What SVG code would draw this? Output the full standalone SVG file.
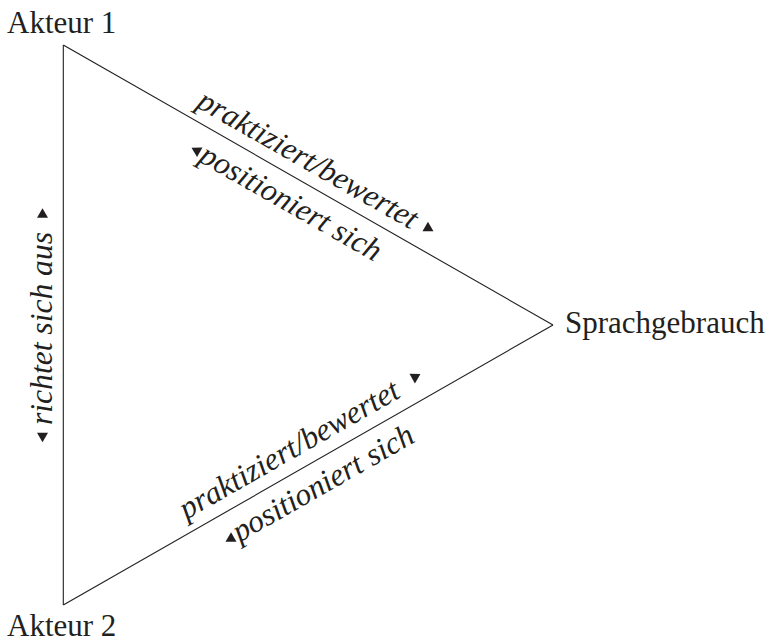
<svg xmlns="http://www.w3.org/2000/svg" width="773" height="642" viewBox="0 0 773 642">
<style>
  .node { font-family: "Liberation Serif", "Times New Roman", serif; font-size: 31px; fill: #231f20; }
  .lbl { font-family: "Liberation Serif", "Times New Roman", serif; font-style: italic; font-size: 31.5px; fill: #231f20; }
  .edge { fill: none; stroke: #231f20; stroke-width: 1.1; }
  .tri { fill: #231f20; }
</style>
<defs>
  <polygon id="tri-right" points="-4.75,-5.5 -4.75,5.5 4.75,0"/>
  <polygon id="tri-left" points="4.75,-5.5 4.75,5.5 -4.75,0"/>
</defs>
<rect width="773" height="642" fill="#ffffff"/>
<g id="connectors">
  <g id="edge-akteur1-akteur2">
    <line class="edge" x1="63.3" y1="45" x2="63.3" y2="605"/>
    <g transform="translate(52,425) rotate(-90)">
      <text class="lbl" x="0" y="0" textLength="193" lengthAdjust="spacingAndGlyphs">richtet sich aus</text>
    </g>
    <use href="#tri-left" class="tri" transform="translate(42.5,437.5) rotate(-90)"/>
    <use href="#tri-right" class="tri" transform="translate(42.5,213) rotate(-90)"/>
  </g>
  <g id="edge-akteur1-sprachgebrauch">
    <line class="edge" x1="63.3" y1="45" x2="553" y2="325"/>
    <g transform="translate(63.3,45) rotate(29.74)">
      <text class="lbl" x="145" y="-12">praktiziert/bewertet</text>
      <use href="#tri-right" class="tri" transform="translate(409,-22)"/>
      <use href="#tri-left" class="tri" transform="translate(167,25.5)"/>
      <text class="lbl" x="174" y="34">positioniert sich</text>
    </g>
  </g>
  <g id="edge-akteur2-sprachgebrauch">
    <line class="edge" x1="63.3" y1="605" x2="553" y2="325"/>
    <g transform="translate(63.3,605) rotate(-29.74)">
      <text class="lbl" x="149" y="-13">praktiziert/bewertet</text>
      <use href="#tri-right" class="tri" transform="translate(420,-23.5)"/>
      <use href="#tri-left" class="tri" transform="translate(177,25.5)"/>
      <text class="lbl" x="184" y="33">positioniert sich</text>
    </g>
  </g>
</g>
<g id="node-akteur1">
  <text class="node" x="7" y="33">Akteur 1</text>
</g>
<g id="node-akteur2">
  <text class="node" x="7" y="636">Akteur 2</text>
</g>
<g id="node-sprachgebrauch">
  <text class="node" x="565" y="333">Sprachgebrauch</text>
</g>
</svg>
